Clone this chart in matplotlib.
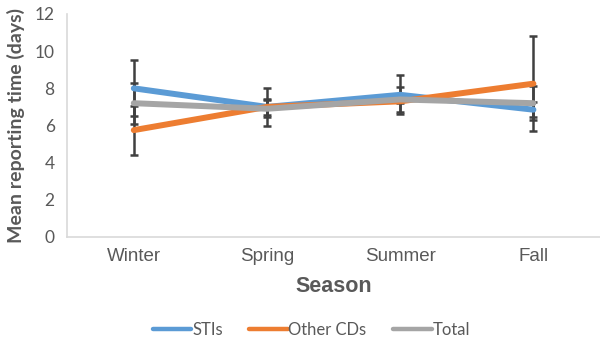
import matplotlib
matplotlib.use("Agg")
import numpy as np
from matplotlib import pyplot as plt

plt.rcParams['font.family'] = ['Liberation Sans', 'DejaVu Sans']

seasons = ["Winter", "Spring", "Summer", "Fall"]
stis = [8.0, 7.0, 7.65, 6.85]
stis_err = [1.5, 1.03, 1.05, 0.4]
other_cds = [5.75, 7.0, 7.3, 8.25]
other_err = [1.32, 0.45, 0.1, 2.55]
total = [7.2, 6.9, 7.4, 7.2]
total_err = [1.1, 0.45, 0.68, 0.9]

series = [
    ("STIs", stis, stis_err, "#5B9BD5"),
    ("Other CDs", other_cds, other_err, "#ED7D31"),
    ("Total", total, total_err, "#A5A5A5"),
]

fig = plt.figure(figsize=(6, 3.41), dpi=100)
ax = fig.add_axes([0.112, 0.305, 0.888, 0.654])
x = np.arange(len(seasons))

# error bars sit underneath the lines
for name, vals, err, col in series:
    ax.errorbar(x, vals, yerr=err, fmt='none', ecolor='#404040', elinewidth=1.8,
                capsize=3, capthick=1.8, zorder=1)
for name, vals, err, col in series:
    ax.plot(x, vals, color=col, lw=4.3, solid_capstyle='round', label=name, zorder=2)

ax.set_xlim(-0.5, 3.5)
ax.set_ylim(0, 12)
ax.set_yticks(range(0, 13, 2))
ax.set_xticks(x)
ax.set_xticklabels(seasons)
ax.tick_params(axis='both', length=0, colors='#595959')
ax.tick_params(axis='x', labelsize=13.5, pad=8)
ax.tick_params(axis='y', pad=9)
for lbl in ax.get_yticklabels():
    lbl.set_family('Lato')
    lbl.set_fontsize(12.5)
for s in ['top', 'right']:
    ax.spines[s].set_visible(False)
for s in ['bottom', 'left']:
    ax.spines[s].set_color('#D9D9D9')
    ax.spines[s].set_linewidth(1.2)

ax.set_ylabel("Mean reporting time (days)", family='Lato', fontsize=14, fontweight='bold',
              color='#595959', labelpad=7)
ax.set_xlabel("Season", fontsize=15.5, fontweight='bold', color='#595959', labelpad=8)

leg = fig.legend(loc='center', bbox_to_anchor=(0.519, 0.033), ncol=3, frameon=False,
                 prop={'family': 'Lato', 'size': 12}, handlelength=2.3,
                 handletextpad=0.05, columnspacing=1.6)
for t in leg.get_texts():
    t.set_color('#595959')
for h in leg.get_lines():
    h.set_linewidth(3.2)

fig.savefig("out.png", dpi=100)
